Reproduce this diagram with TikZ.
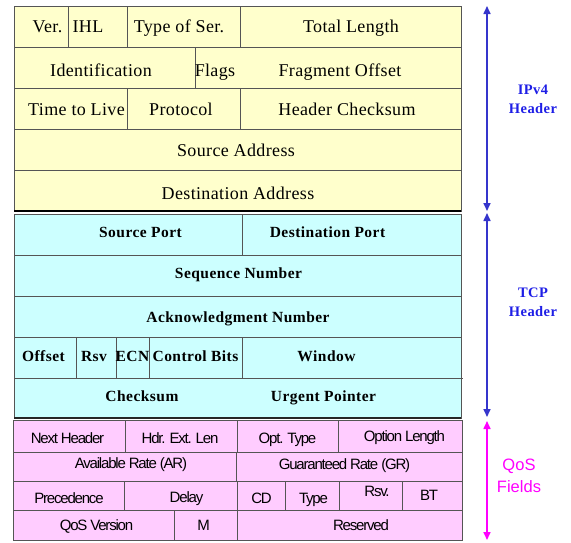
\documentclass[tikz,border=0pt]{standalone}
\usepackage{fontspec}
\usetikzlibrary{arrows.meta}
\newfontfamily\ipfont[LetterSpace=2]{Liberation Serif}
\newfontfamily\tcpfont[LetterSpace=3]{Liberation Serif}
\newfontfamily\qosfont[LetterSpace=-8]{Liberation Sans}
\newfontfamily\lblsans{Liberation Sans}
\definecolor{ipfill}{HTML}{FFFFCC}
\definecolor{tcpfill}{HTML}{CCFFFF}
\definecolor{qosfill}{HTML}{FFCCFF}
\definecolor{gridc}{HTML}{555555}
\definecolor{arrblue}{HTML}{3535CC}
\definecolor{txtblue}{HTML}{1E1EE6}
\definecolor{magc}{HTML}{FF00FF}
\tikzset{
  gridline/.style={draw=gridc, line width=1pt},
  iptext/.style={font=\ipfont\fontsize{18}{20}\selectfont, anchor=base, inner sep=0pt},
  tcptext/.style={font=\tcpfont\bfseries\fontsize{15.5}{18}\selectfont, anchor=base, inner sep=0pt},
  qostext/.style={font=\qosfont\fontsize{15}{17}\selectfont, anchor=base, inner sep=0pt},
  bluearrow/.style={draw=arrblue, line width=1.6pt, {Triangle[length=8pt,width=7pt]}-{Triangle[length=8pt,width=7pt]}},
  magarrow/.style={draw=magc, line width=1.6pt, {Triangle[length=8pt,width=7pt]}-{Triangle[length=8pt,width=7pt]}},
  sidelabel/.style={align=center, inner sep=0pt, font=\tcpfont\bfseries\fontsize{14.5}{19}\selectfont, text=txtblue},
  qoslabel/.style={align=center, inner sep=0pt, font=\lblsans\fontsize{16.5}{22}\selectfont, text=magc}
}
\begin{document}
\begin{tikzpicture}[x=1pt,y=-1pt]
\useasboundingbox (0,0) rectangle (571,542);
% ---------- IPv4 ----------
\fill[ipfill] (14,6) rectangle (461,211);
\draw[gridline] (14,6) rectangle (461,211);
\draw[gridline] (14,47) -- (461,47) (14,88) -- (461,88) (14,129) -- (461,129) (14,170) -- (461,170);
\draw[gridline] (68,6) -- (68,47) (127,6) -- (127,47) (240,6) -- (240,47);
\draw[gridline] (195,47) -- (195,88);
\draw[gridline] (127,88) -- (127,129) (240,88) -- (240,129);
\draw[black, line width=2.5pt] (14,211) -- (461,211);
\node[iptext] (ver) at (47.5,32) {Ver.};
\node[iptext] (ihl) at (88,32) {IHL};
\node[iptext] (tos) at (179,32) {Type of Ser.};
\node[iptext] (tlen) at (351,32) {Total Length};
\node[iptext] (ident) at (101,76) {Identification};
\node[iptext] (flags) at (215,76) {Flags};
\node[iptext] (frag) at (340,76) {Fragment Offset};
\node[iptext] (ttl) at (76.5,115) {Time to Live};
\node[iptext] (proto) at (181,115) {Protocol};
\node[iptext] (hcs) at (347,115) {Header Checksum};
\node[iptext] (srca) at (236,156) {Source Address};
\node[iptext] (dsta) at (238,199.3) {Destination Address};
% ---------- TCP ----------
\fill[tcpfill] (14,214) rectangle (461,418);
\draw[gridline] (14,214) rectangle (461,418);
\draw[gridline] (14,255) -- (461,255) (14,296) -- (461,296) (14,337) -- (461,337) (14,378) -- (463,378);
\draw[gridline] (242,214) -- (242,255);
\draw[gridline] (76,337) -- (76,378) (116,337) -- (116,378) (149,337) -- (149,378) (242,337) -- (242,378);
\draw[black!85, line width=1.5pt] (14,418) -- (461,418);
\node[tcptext] (sport) at (140.5,237.7) {Source Port};
\node[tcptext] (dport) at (327.5,237.7) {Destination Port};
\node[tcptext] (seq) at (238.5,278.3) {Sequence Number};
\node[tcptext] (ack) at (238,322.7) {Acknowledgment Number};
\node[tcptext] (off) at (43.5,361.7) {Offset};
\node[tcptext] (rsv) at (94,361.7) {Rsv};
\node[tcptext] (ecn) at (132.5,361.7) {ECN};
\node[tcptext] (ctrl) at (195.5,361.7) {Control Bits};
\node[tcptext] (win) at (326.5,361.7) {Window};
\node[tcptext] (csum) at (142,401.7) {Checksum};
\node[tcptext] (urg) at (323.5,401.7) {Urgent Pointer};
% ---------- QoS ----------
\fill[qosfill] (13,420) rectangle (462,540);
\draw[gridline] (13,420) rectangle (462,540);
\draw[gridline] (13,452) -- (462,452) (13,481) -- (462,481) (13,510) -- (462,510);
\draw[gridline] (125,420) -- (125,452) (237,420) -- (237,452) (338,420) -- (338,452);
\draw[gridline] (236,452) -- (236,481);
\draw[gridline] (124,481) -- (124,510) (237,481) -- (237,510) (285,481) -- (285,510) (339,481) -- (339,510) (402,481) -- (402,510);
\draw[gridline] (174,510) -- (174,540) (237,510) -- (237,540);
\node[qostext] (nh) at (67.5,443.3) {Next Header};
\node[qostext] (hel) at (180,443.3) {Hdr. Ext. Len};
\node[qostext] (ot) at (287.5,443.3) {Opt. Type};
\node[qostext] (ol) at (404.5,441) {Option Length};
\node[qostext] (ar) at (131,468) {Available Rate (AR)};
\node[qostext] (gr) at (344.5,469.5) {Guaranteed Rate (GR)};
\node[qostext] (prec) at (69,503.3) {Precedence};
\node[qostext] (delay) at (186.5,502) {Delay};
\node[qostext] (cd) at (261.5,503.3) {CD};
\node[qostext] (typ) at (313.5,503.3) {Type};
\node[qostext] (rsvq) at (377,496.5) {Rsv.};
\node[qostext] (bt) at (429,500.5) {BT};
\node[qostext] (qv) at (96.5,530) {QoS Version};
\node[qostext] (mm) at (203.5,530) {M};
\node[qostext] (res) at (361,530) {Reserved};
% ---------- side arrows ----------
\coordinate (ipTop) at (487,6);
\coordinate (ipBot) at (487,211);
\coordinate (tcpTop) at (487,213);
\coordinate (tcpBot) at (487,417);
\coordinate (qosTop) at (487,421);
\coordinate (qosBot) at (487,540);
\draw[bluearrow] (ipTop) -- (ipBot);
\draw[bluearrow] (tcpTop) -- (tcpBot);
\draw[magarrow] (qosTop) -- (qosBot);
\node[sidelabel] (iplab) at (533,99) {IPv4\\Header};
\node[sidelabel] (tcplab) at (533,302) {TCP\\Header};
\node[qoslabel] (qoslab) at (519,476) {QoS\\Fields};
\end{tikzpicture}
\end{document}
